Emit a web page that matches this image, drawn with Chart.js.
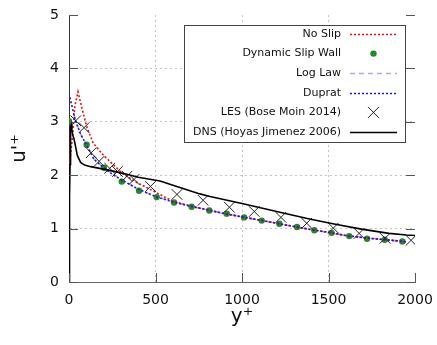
<!DOCTYPE html>
<html><head><meta charset="utf-8">
<script src="https://cdn.jsdelivr.net/npm/chart.js@4"></script>
<style>html,body{margin:0;padding:0;background:#fff}</style>
</head><body>
<canvas id="c" width="437" height="345" style="display:block;width:437px;height:345px"></canvas>
<script>
// ---- data ----
const noSlipYp = [0, 20, 33, 52, 73, 102, 140, 200, 255, 310, 400, 490, 600, 700, 800, 900, 1000, 1100, 1200, 1300, 1400, 1500, 1600, 1700, 1800, 1900, 1950];
const noSlipU  = [2.1, 2.72, 3.28, 3.56, 3.28, 2.91, 2.6, 2.37, 2.2, 2.03, 1.85, 1.70, 1.51, 1.43, 1.35, 1.28, 1.22, 1.16, 1.10, 1.04, 0.98, 0.93, 0.87, 0.83, 0.80, 0.77, 0.75];

const dswYp = [0, 102, 202, 305, 405, 507, 607, 709, 811, 912, 1012, 1114, 1216, 1318, 1418, 1518, 1620, 1723, 1825, 1927];
const dswU  = [3.01, 2.57, 2.14, 1.88, 1.71, 1.59, 1.49, 1.41, 1.34, 1.28, 1.21, 1.15, 1.09, 1.03, 0.97, 0.92, 0.86, 0.81, 0.79, 0.76];

const logLawYp = [30, 67, 102, 144, 200, 300, 400, 500, 700, 1000, 1300, 1600, 1950];
const logLawU  = [3.1, 2.77, 2.56, 2.30, 2.14, 1.92, 1.74, 1.60, 1.42, 1.22, 1.04, 0.87, 0.75];

const dupratYp = [0, 36, 67, 102, 144, 200, 250, 300, 400, 500, 600, 700, 800, 900, 1000, 1100, 1200, 1300, 1400, 1500, 1600, 1700, 1800, 1900, 1950];
const dupratU  = [3.53, 3.03, 2.77, 2.56, 2.30, 2.14, 2.02, 1.92, 1.74, 1.60, 1.50, 1.42, 1.35, 1.28, 1.22, 1.16, 1.10, 1.04, 0.98, 0.93, 0.87, 0.83, 0.80, 0.77, 0.75];

const lesYp = [39, 87, 128, 174, 235, 280, 335, 376, 471, 624, 775, 927, 1071, 1225, 1374, 1528, 1677, 1827, 1977];
const lesU  = [3.02, 2.89, 2.42, 2.26, 2.13, 2.07, 1.98, 1.92, 1.79, 1.64, 1.53, 1.40, 1.32, 1.21, 1.10, 1.01, 0.91, 0.82, 0.78];

const dnsYp = [0, 2, 4, 6, 8, 10, 13, 17, 22, 29, 39, 48, 67, 90, 125, 221, 318, 400, 526, 650, 757, 815, 1000, 1200, 1390, 1540, 1690, 1850, 1950, 2000];
const dnsU  = [0, 0.8, 1.6, 2.2, 2.65, 2.9, 2.95, 2.85, 2.75, 2.68, 2.52, 2.37, 2.24, 2.19, 2.16, 2.10, 2.03, 1.96, 1.89, 1.76, 1.65, 1.60, 1.47, 1.32, 1.18, 1.08, 0.99, 0.91, 0.88, 0.87];

const xTicks = [0, 500, 1000, 1500, 2000];
const yTicks = [0, 1, 2, 3, 4, 5];
const legendOrder = ["No Slip", "Dynamic Slip Wall", "Log Law", "Duprat", "LES (Bose Moin 2014)", "DNS (Hoyas Jimenez 2006)"];

const pts = (xs, ys) => xs.map((v, i) => ({x: v, y: ys[i]}));
const FONT = "'DejaVu Sans', sans-serif";

const datasets = [
  {label: "DNS (Hoyas Jimenez 2006)", data: pts(dnsYp, dnsU), showLine: true, borderColor: '#000', borderWidth: 1.6, pointRadius: 0, order: 1},
  {label: "LES (Bose Moin 2014)", data: pts(lesYp, lesU), showLine: false, pointStyle: 'crossRot', pointRadius: 7.5, borderColor: '#222', pointBorderWidth: 1, borderWidth: 1, order: 2},
  {label: "Duprat", data: pts(dupratYp, dupratU), showLine: true, borderColor: '#1a1adc', borderWidth: 1.6, borderDash: [2, 2], pointRadius: 0, order: 3},
  {label: "No Slip", data: pts(noSlipYp, noSlipU), showLine: true, borderColor: '#ee1111', borderWidth: 1.6, borderDash: [2, 2], borderDashOffset: 2, pointRadius: 0, order: 4},
  {label: "Dynamic Slip Wall", data: pts(dswYp, dswU), showLine: false, pointStyle: 'circle', pointRadius: 3.2, backgroundColor: '#228b22', borderColor: '#228b22', pointBorderWidth: 0, order: 5},
  {label: "Log Law", data: pts(logLawYp, logLawU), showLine: true, borderColor: '#c0a0f0', borderWidth: 1.6, borderDash: [5, 4], pointRadius: 0, order: 6}
];

const inwardTicks = {
  id: 'inwardTicks',
  afterDraw(chart) {
    const {ctx, chartArea: a, scales: {x, y}} = chart;
    ctx.save();
    ctx.strokeStyle = '#555';
    ctx.lineWidth = 1;
    ctx.beginPath();
    y.ticks.forEach(t => {
      const py = Math.round(y.getPixelForValue(t.value)) + 0.5;
      ctx.moveTo(a.left, py); ctx.lineTo(a.left + 9, py);
      ctx.moveTo(a.right - 9, py); ctx.lineTo(a.right, py);
    });
    x.ticks.forEach(t => {
      const px = Math.round(x.getPixelForValue(t.value)) + 0.5;
      ctx.moveTo(px, a.bottom); ctx.lineTo(px, a.bottom - 9);
    });
    ctx.stroke();
    ctx.restore();
  }
};

const gpLegend = {
  id: 'gpLegend',
  afterDraw(chart) {
    const ctx = chart.ctx;
    const bx = 184, by = 25, bw = 221, bh = 117;
    ctx.save();
    ctx.fillStyle = '#fff';
    ctx.fillRect(bx, by, bw, bh);
    ctx.strokeStyle = '#444';
    ctx.lineWidth = 1;
    ctx.strokeRect(bx + 0.5, by + 0.5, bw, bh);
    ctx.font = '11px ' + FONT;
    ctx.textAlign = 'right';
    ctx.textBaseline = 'middle';
    legendOrder.forEach((lab, i) => {
      const ds = chart.data.datasets.find(d => d.label === lab);
      const ly = 34 + i * 19.6;
      ctx.fillStyle = '#111';
      ctx.fillText(lab, 341, ly);
      const x0 = 350, x1 = 397, xc = (x0 + x1) / 2;
      if (ds.showLine) {
        ctx.save();
        ctx.strokeStyle = ds.borderColor;
        ctx.lineWidth = ds.borderWidth;
        ctx.setLineDash(ds.borderDash || []);
        ctx.beginPath();
        ctx.moveTo(x0, Math.round(ly) + 0.5);
        ctx.lineTo(x1, Math.round(ly) + 0.5);
        ctx.stroke();
        ctx.restore();
      } else if (ds.pointStyle === 'circle') {
        ctx.fillStyle = ds.backgroundColor;
        ctx.beginPath();
        ctx.arc(xc, ly, 3.2, 0, Math.PI * 2);
        ctx.fill();
      } else {
        ctx.strokeStyle = ds.borderColor;
        ctx.lineWidth = 1;
        ctx.beginPath();
        ctx.moveTo(xc - 5.5, ly - 5.5); ctx.lineTo(xc + 5.5, ly + 5.5);
        ctx.moveTo(xc + 5.5, ly - 5.5); ctx.lineTo(xc - 5.5, ly + 5.5);
        ctx.stroke();
      }
    });
    ctx.restore();
  }
};

const gridColor = (edgeVals) => (c) => (c.tick && edgeVals.includes(c.tick.value)) ? 'rgba(0,0,0,0)' : '#c4c4c4';

new Chart(document.getElementById('c'), {
  type: 'scatter',
  data: {datasets},
  options: {
    responsive: false,
    animation: false,
    devicePixelRatio: 1,
    layout: {padding: {left: 0, right: 22, top: 15, bottom: 0}},
    plugins: {legend: {display: false}, tooltip: {enabled: false}},
    scales: {
      x: {
        type: 'linear', min: 0, max: 2000,
        afterBuildTicks: s => { s.ticks = xTicks.map(v => ({value: v})); },
        afterFit: s => { s.height = 63; s.paddingLeft = 0; s.paddingRight = 0; },
        grid: {color: gridColor([0, 2000]), lineWidth: 1, drawTicks: false},
        border: {display: true, color: '#666', width: 1, dash: [2, 3]},
        ticks: {font: {family: FONT, size: 14}, color: '#111', padding: 10, maxRotation: 0, autoSkip: false, callback: v => String(v)},
        title: {display: true, text: 'y\u207A', font: {family: FONT, size: 20}, color: '#111', padding: {top: 0, bottom: 16}}
      },
      y: {
        type: 'linear', min: 0, max: 5,
        afterBuildTicks: s => { s.ticks = yTicks.map(v => ({value: v})); },
        afterFit: s => { s.width = 69; s.paddingTop = 0; s.paddingBottom = 0; },
        grid: {color: gridColor([0, 5]), lineWidth: 1, drawTicks: false},
        border: {display: true, color: '#333', width: 1, dash: [2, 3]},
        ticks: {font: {family: FONT, size: 14}, color: '#111', padding: 10, callback: v => String(v)},
        title: {display: true, text: "u'\u207A", font: {family: FONT, size: 20}, color: '#111', padding: {top: 8, bottom: 0}}
      }
    }
  },
  plugins: [inwardTicks, gpLegend]
});
</script>
</body></html>
